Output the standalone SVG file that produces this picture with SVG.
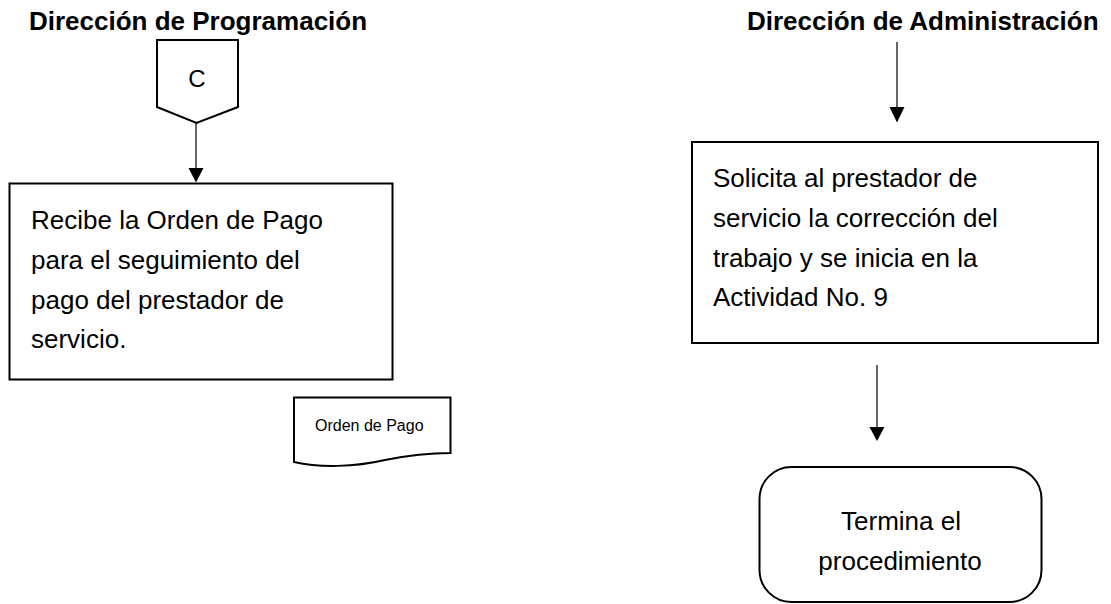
<svg xmlns="http://www.w3.org/2000/svg" width="1111" height="604" viewBox="0 0 1111 604">
<defs>
<style>
.title{font-family:"Liberation Sans",Arial,sans-serif;font-weight:bold;font-size:26px;fill:#000}
.body{font-family:"Liberation Sans",Arial,sans-serif;font-size:26px;fill:#000}
.small{font-family:"Liberation Sans",Arial,sans-serif;font-size:16px;fill:#000}
.shape{fill:#fff;stroke:#000;stroke-width:2}
.conn{stroke:#000;stroke-width:1.2;fill:none}
.head{fill:#000;stroke:none}
</style>
</defs>
<rect width="1111" height="604" fill="#fff"/>
<g id="titles">
<text class="title" x="29" y="30">Dirección de Programación</text>
<text class="title" x="747" y="30">Dirección de Administración</text>
</g>
<g id="connectors">
<line class="conn" x1="196" y1="123" x2="196" y2="169"/>
<polygon class="head" points="188.5,168 203.5,168 196,182.5"/>
<line class="conn" x1="897" y1="42" x2="897" y2="108"/>
<polygon class="head" points="889.5,107 904.5,107 897,122.5"/>
<line class="conn" x1="877" y1="365" x2="877" y2="428"/>
<polygon class="head" points="869.5,427 884.5,427 877,441"/>
</g>
<g id="node-c">
<polygon class="shape" points="157,40 238,40 238,107 196.5,123 157,107"/>
<text class="body" x="197" y="87" text-anchor="middle" style="font-size:24px">C</text>
</g>
<g id="node-recibe">
<rect class="shape" x="9.5" y="183.5" width="383" height="196"/>
<text class="body" x="31" y="229">Recibe la Orden de Pago</text>
<text class="body" x="31" y="269">para el seguimiento del</text>
<text class="body" x="31" y="309">pago del prestador de</text>
<text class="body" x="31" y="348">servicio.</text>
</g>
<g id="node-orden">
<path class="shape" d="M294,397.5 H450.5 V453 C425,453 405,456 385,460 C355,467 320,468 294,462 Z"/>
<text class="small" x="315" y="431">Orden de Pago</text>
</g>
<g id="node-solicita">
<rect class="shape" x="692" y="142" width="406" height="201"/>
<text class="body" x="713" y="187">Solicita al prestador de</text>
<text class="body" x="713" y="227">servicio la corrección del</text>
<text class="body" x="713" y="267">trabajo y se inicia en la</text>
<text class="body" x="713" y="306">Actividad No. 9</text>
</g>
<g id="node-termina">
<rect class="shape" x="759.5" y="467" width="282" height="135" rx="32" ry="32"/>
<text class="body" x="901" y="530" text-anchor="middle">Termina el</text>
<text class="body" x="900" y="570" text-anchor="middle">procedimiento</text>
</g>
</svg>
